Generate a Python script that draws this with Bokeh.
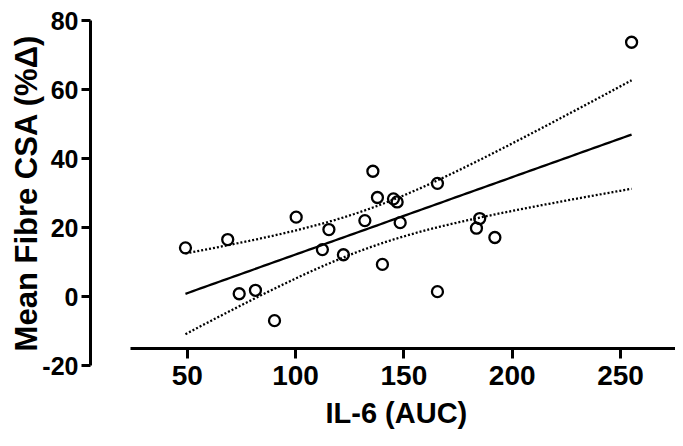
import numpy as np
from bokeh.plotting import figure
from bokeh.models import Range1d, FixedTicker, ColumnDataSource, LinearAxis, Title
from bokeh.embed import file_html
from bokeh.resources import INLINE

# ---- data ----
il6_auc = [49.2, 68.7, 100.3, 115.4, 112.4, 122.1, 132.0, 135.7, 137.8, 145.2, 146.9,
           148.3, 140.1, 74.0, 81.5, 90.3, 165.5, 185.0, 183.5, 192.0, 165.5, 255.1]
fibre_csa = [14.1, 16.5, 23.0, 19.4, 13.6, 12.1, 22.0, 36.3, 28.7, 28.3, 27.4,
             21.4, 9.3, 0.8, 1.8, -7.0, 32.8, 22.6, 19.8, 17.1, 1.4, 73.7]
x_ticks = [50, 100, 150, 200, 250]
y_ticks = [-20, 0, 20, 40, 60, 80]
y_tick_labels = {-20: "-20", 0: "0", 20: "20", 40: "40", 60: "60", 80: "80"}
x_title = "IL-6 (AUC)"
y_title = "Mean Fibre CSA (%Δ)"
t_crit = 2.086  # t(0.975, df=20)

# ---- linear fit with 95% confidence band ----
x = np.array(il6_auc)
y = np.array(fibre_csa)
n = len(x)
slope, intercept = np.polyfit(x, y, 1)
resid = y - (slope * x + intercept)
s = np.sqrt(np.sum(resid ** 2) / (n - 2))
xm = x.mean()
sxx = np.sum((x - xm) ** 2)
xg = np.linspace(x.min(), x.max(), 120)
yg = slope * xg + intercept
se = s * np.sqrt(1.0 / n + (xg - xm) ** 2 / sxx)
fit = ColumnDataSource(dict(x=xg, y=yg, lo=yg - t_crit * se, hi=yg + t_crit * se))
pts = ColumnDataSource(dict(x=il6_auc, y=fibre_csa))

FONT = "Liberation Sans"

p = figure(width=675, height=438, output_backend="svg", toolbar_location=None,
           x_range=Range1d(5.37, 275.37), y_range=Range1d(-20, 80),
           min_border_left=90, min_border_right=0, min_border_top=20, min_border_bottom=73)
p.outline_line_color = None
p.xgrid.visible = False
p.ygrid.visible = False
p.background_fill_color = "white"

p.line("x", "hi", source=fit, line_color="black", line_width=2.3, line_dash="2 2")
p.line("x", "lo", source=fit, line_color="black", line_width=2.3, line_dash="2 2")
p.line("x", "y", source=fit, line_color="black", line_width=2.3)
p.scatter("x", "y", source=pts, size=11, marker="circle", fill_alpha=0,
          line_color="black", line_width=2.3)

# y axis
ya = p.yaxis[0]
ya.ticker = FixedTicker(ticks=y_ticks)
ya.major_label_overrides = y_tick_labels
ya.axis_line_width = 3
ya.major_tick_line_width = 3
ya.major_tick_in = 0
ya.major_tick_out = 9
ya.minor_tick_line_color = None
ya.major_label_text_font = FONT
ya.major_label_text_font_style = "bold"
ya.major_label_text_font_size = "25px"
ya.major_label_text_color = "black"
ya.major_label_standoff = 3
ya.axis_label = y_title
ya.axis_label_text_font = FONT
ya.axis_label_text_font_style = "bold"
ya.axis_label_text_font_size = "31px"
ya.axis_label_text_color = "black"
ya.axis_label_standoff = -5

# x axis line + ticks (offset, as in the reference)
xa = p.xaxis[0]
xa.ticker = FixedTicker(ticks=x_ticks)
xa.fixed_location = -15.2
xa.bounds = (24, 275.4)
xa.axis_line_width = 3
xa.major_tick_line_width = 3
xa.major_tick_in = 0
xa.major_tick_out = 10
xa.minor_tick_line_color = None
xa.major_label_text_color = None
xa.major_label_text_font_size = "1px"

# x tick labels
xl = LinearAxis(ticker=FixedTicker(ticks=x_ticks))
xl.axis_line_color = None
xl.major_tick_line_color = None
xl.minor_tick_line_color = None
xl.major_tick_out = 0
xl.major_tick_in = 0
xl.major_label_standoff = 0
xl.major_label_text_font = FONT
xl.major_label_text_font_style = "bold"
xl.major_label_text_font_size = "28px"
xl.major_label_text_color = "black"
p.add_layout(xl, "below")

p.add_layout(Title(text=x_title, align="left", offset=235, standoff=15,
                   vertical_align="bottom",
                   text_font=FONT, text_font_style="bold", text_font_size="29px",
                   text_color="black"), "below")

open("out.html", "w").write(file_html(p, INLINE))
